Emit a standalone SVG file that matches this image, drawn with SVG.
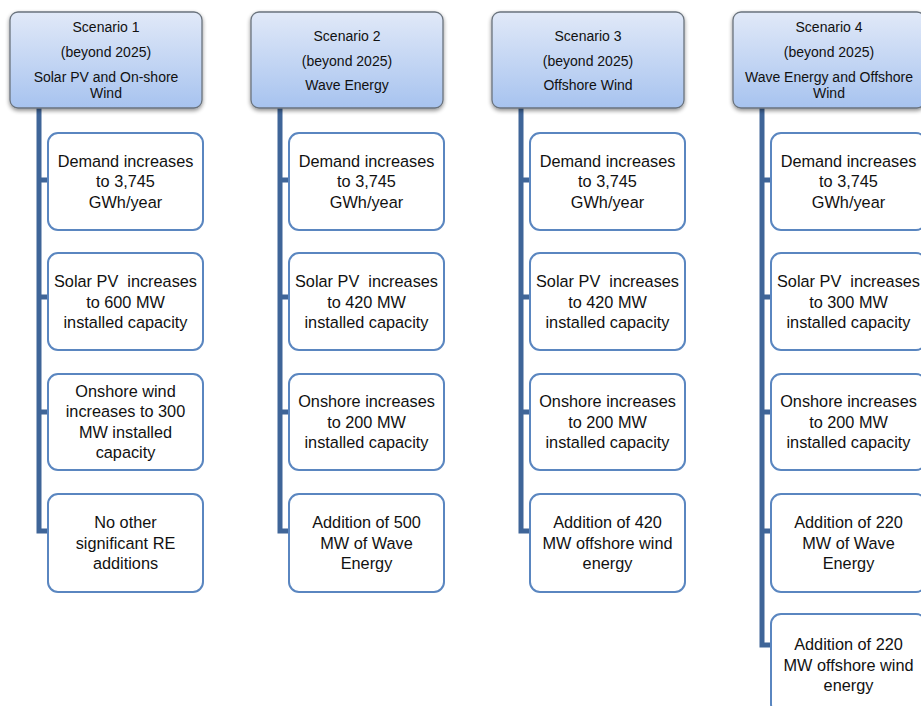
<svg xmlns="http://www.w3.org/2000/svg" width="921" height="706" viewBox="0 0 921 706">
<defs>
<linearGradient id="hg" x1="0" y1="0" x2="0" y2="1">
<stop offset="0" stop-color="#e1e9f8"/>
<stop offset="1" stop-color="#a7c3ef"/>
</linearGradient>
<filter id="sh" x="-10%" y="-10%" width="120%" height="130%">
<feGaussianBlur in="SourceAlpha" stdDeviation="2"/>
<feOffset dx="0" dy="2" result="b"/>
<feComponentTransfer><feFuncA type="linear" slope="0.45"/></feComponentTransfer>
<feMerge><feMergeNode/><feMergeNode in="SourceGraphic"/></feMerge>
</filter>
</defs>
<style>
.hdr{fill:url(#hg);stroke:#6a737d;stroke-width:1.3;filter:url(#sh)}
.box{fill:#ffffff;stroke:#5a86c0;stroke-width:2}
.ht{font-family:"Liberation Sans",Arial,sans-serif;font-size:14px;fill:#111;text-anchor:middle}
.bt{font-family:"Liberation Sans",Arial,sans-serif;font-size:16.3px;fill:#111;text-anchor:middle;white-space:pre}
.trunk{fill:none;stroke:#3f6598;stroke-width:5;stroke-linejoin:miter}
.stub{fill:none;stroke:#dde6f1;stroke-width:5}
</style>
<rect width="921" height="706" fill="#ffffff"/>

<g id="connectors">
<path class="trunk" d="M39 108 V531 H50 M39 180 H50 M39 297 H50 M39 412 H50"/>
<path class="stub" d="M50 180 H57 M50 297 H57 M50 412 H57 M50 531 H57"/>
<path class="trunk" d="M280 108 V531 H291 M280 180 H291 M280 297 H291 M280 412 H291"/>
<path class="stub" d="M291 180 H298 M291 297 H298 M291 412 H298 M291 531 H298"/>
<path class="trunk" d="M521 108 V531 H532 M521 180 H532 M521 297 H532 M521 412 H532"/>
<path class="stub" d="M532 180 H539 M532 297 H539 M532 412 H539 M532 531 H539"/>
<path class="trunk" d="M762 108 V645 H773 M762 180 H773 M762 297 H773 M762 412 H773 M762 531 H773"/>
<path class="stub" d="M773 180 H780 M773 297 H780 M773 412 H780 M773 531 H780 M773 645 H780"/>
</g>

<g id="s1">
<rect class="hdr" x="10" y="12" width="192" height="96" rx="8"/>
<text class="ht" x="106" y="32">Scenario 1</text>
<text class="ht" x="106" y="57">(beyond 2025)</text>
<text class="ht" x="106" y="82">Solar PV and On-shore</text>
<text class="ht" x="106" y="98">Wind</text>
</g>
<g id="s1n1">
<rect class="box" x="48" y="133" width="155" height="97" rx="10"/>
<text class="bt" x="125.5" y="166.5">Demand increases</text>
<text class="bt" x="125.5" y="187">to 3,745</text>
<text class="bt" x="125.5" y="207.5">GWh/year</text>
</g>
<g id="s1n2">
<rect class="box" x="48" y="253" width="155" height="97" rx="10"/>
<text class="bt" x="125.5" y="287">Solar PV  increases</text>
<text class="bt" x="125.5" y="307.5">to 600 MW</text>
<text class="bt" x="125.5" y="328">installed capacity</text>
</g>
<g id="s1n3">
<rect class="box" x="48" y="374" width="155" height="96" rx="10"/>
<text class="bt" x="125.5" y="396.5">Onshore wind</text>
<text class="bt" x="125.5" y="417">increases to 300</text>
<text class="bt" x="125.5" y="437.5">MW installed</text>
<text class="bt" x="125.5" y="458">capacity</text>
</g>
<g id="s1n4">
<rect class="box" x="48" y="494" width="155" height="98" rx="10"/>
<text class="bt" x="125.5" y="528">No other</text>
<text class="bt" x="125.5" y="548.5">significant RE</text>
<text class="bt" x="125.5" y="569">additions</text>
</g>

<g id="s2">
<rect class="hdr" x="251" y="12" width="192" height="96" rx="8"/>
<text class="ht" x="347" y="41">Scenario 2</text>
<text class="ht" x="347" y="66">(beyond 2025)</text>
<text class="ht" x="347" y="90">Wave Energy</text>
</g>
<g id="s2n1">
<rect class="box" x="289" y="133" width="155" height="97" rx="10"/>
<text class="bt" x="366.5" y="166.5">Demand increases</text>
<text class="bt" x="366.5" y="187">to 3,745</text>
<text class="bt" x="366.5" y="207.5">GWh/year</text>
</g>
<g id="s2n2">
<rect class="box" x="289" y="253" width="155" height="97" rx="10"/>
<text class="bt" x="366.5" y="287">Solar PV  increases</text>
<text class="bt" x="366.5" y="307.5">to 420 MW</text>
<text class="bt" x="366.5" y="328">installed capacity</text>
</g>
<g id="s2n3">
<rect class="box" x="289" y="374" width="155" height="96" rx="10"/>
<text class="bt" x="366.5" y="407">Onshore increases</text>
<text class="bt" x="366.5" y="427.5">to 200 MW</text>
<text class="bt" x="366.5" y="448">installed capacity</text>
</g>
<g id="s2n4">
<rect class="box" x="289" y="494" width="155" height="98" rx="10"/>
<text class="bt" x="366.5" y="528">Addition of 500</text>
<text class="bt" x="366.5" y="548.5">MW of Wave</text>
<text class="bt" x="366.5" y="569">Energy</text>
</g>

<g id="s3">
<rect class="hdr" x="492" y="12" width="192" height="96" rx="8"/>
<text class="ht" x="588" y="41">Scenario 3</text>
<text class="ht" x="588" y="66">(beyond 2025)</text>
<text class="ht" x="588" y="90">Offshore Wind</text>
</g>
<g id="s3n1">
<rect class="box" x="530" y="133" width="155" height="97" rx="10"/>
<text class="bt" x="607.5" y="166.5">Demand increases</text>
<text class="bt" x="607.5" y="187">to 3,745</text>
<text class="bt" x="607.5" y="207.5">GWh/year</text>
</g>
<g id="s3n2">
<rect class="box" x="530" y="253" width="155" height="97" rx="10"/>
<text class="bt" x="607.5" y="287">Solar PV  increases</text>
<text class="bt" x="607.5" y="307.5">to 420 MW</text>
<text class="bt" x="607.5" y="328">installed capacity</text>
</g>
<g id="s3n3">
<rect class="box" x="530" y="374" width="155" height="96" rx="10"/>
<text class="bt" x="607.5" y="407">Onshore increases</text>
<text class="bt" x="607.5" y="427.5">to 200 MW</text>
<text class="bt" x="607.5" y="448">installed capacity</text>
</g>
<g id="s3n4">
<rect class="box" x="530" y="494" width="155" height="98" rx="10"/>
<text class="bt" x="607.5" y="528">Addition of 420</text>
<text class="bt" x="607.5" y="548.5">MW offshore wind</text>
<text class="bt" x="607.5" y="569">energy</text>
</g>

<g id="s4">
<rect class="hdr" x="733" y="12" width="192" height="96" rx="8"/>
<text class="ht" x="829" y="32">Scenario 4</text>
<text class="ht" x="829" y="57">(beyond 2025)</text>
<text class="ht" x="829" y="82">Wave Energy and Offshore</text>
<text class="ht" x="829" y="98">Wind</text>
</g>
<g id="s4n1">
<rect class="box" x="771" y="133" width="155" height="97" rx="10"/>
<text class="bt" x="848.5" y="166.5">Demand increases</text>
<text class="bt" x="848.5" y="187">to 3,745</text>
<text class="bt" x="848.5" y="207.5">GWh/year</text>
</g>
<g id="s4n2">
<rect class="box" x="771" y="253" width="155" height="97" rx="10"/>
<text class="bt" x="848.5" y="287">Solar PV  increases</text>
<text class="bt" x="848.5" y="307.5">to 300 MW</text>
<text class="bt" x="848.5" y="328">installed capacity</text>
</g>
<g id="s4n3">
<rect class="box" x="771" y="374" width="155" height="96" rx="10"/>
<text class="bt" x="848.5" y="407">Onshore increases</text>
<text class="bt" x="848.5" y="427.5">to 200 MW</text>
<text class="bt" x="848.5" y="448">installed capacity</text>
</g>
<g id="s4n4">
<rect class="box" x="771" y="494" width="155" height="98" rx="10"/>
<text class="bt" x="848.5" y="528">Addition of 220</text>
<text class="bt" x="848.5" y="548.5">MW of Wave</text>
<text class="bt" x="848.5" y="569">Energy</text>
</g>
<g id="s4n5">
<rect class="box" x="771" y="614" width="155" height="100" rx="10"/>
<text class="bt" x="848.5" y="650">Addition of 220</text>
<text class="bt" x="848.5" y="670.5">MW offshore wind</text>
<text class="bt" x="848.5" y="691">energy</text>
</g>
</svg>
